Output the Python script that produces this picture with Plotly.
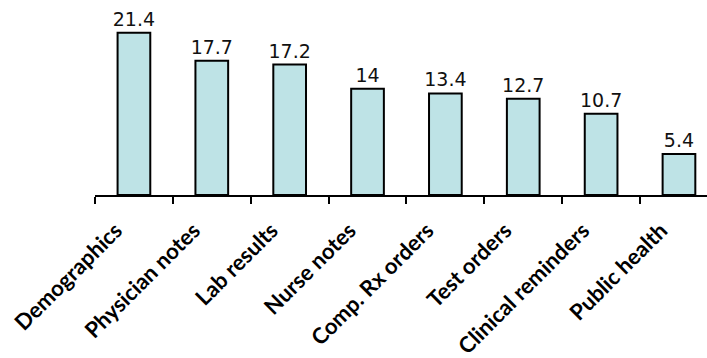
import plotly.graph_objects as go

categories = ["Demographics", "Physician notes", "Lab results", "Nurse notes",
              "Comp. Rx orders", "Test orders", "Clinical reminders", "Public health"]
values = [21.4, 17.7, 17.2, 14, 13.4, 12.7, 10.7, 5.4]
value_labels = ["21.4", "17.7", "17.2", "14", "13.4", "12.7", "10.7", "5.4"]

fig = go.Figure(go.Bar(
    x=categories, y=values, text=value_labels, textposition="outside",
    constraintext="none",
    textfont=dict(family="DejaVu Sans", size=19, color="#111111"),
    marker=dict(color="#BEE3E6", line=dict(color="#000000", width=2)),
    width=0.42, cliponaxis=False,
))

fig.update_layout(
    width=707, height=358, margin=dict(l=95, r=0, t=10, b=163),
    paper_bgcolor="white", plot_bgcolor="white", showlegend=False,
    xaxis=dict(range=[-0.5, 7.36], showline=True, linecolor="black", linewidth=2,
               ticks="outside", tickson="boundaries", ticklen=7, tickwidth=2,
               tickcolor="black", tickangle=-45,
               ticklabelstandoff=12, ticklabelshift=-18,
               tickfont=dict(family="Lato", size=22, color="#000000", weight=700)),
    yaxis=dict(range=[0, 24.4], visible=False),
)

fig.write_html("out.html")
